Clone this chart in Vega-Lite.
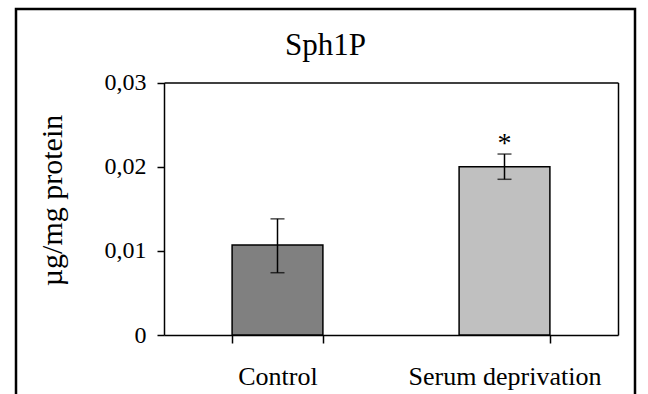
{
  "$schema": "https://vega.github.io/schema/vega-lite/v6.json",
  "autosize": {"type": "none"},
  "padding": {"left": 16, "top": 9, "right": 13, "bottom": 0},
  "width": 619,
  "height": 400,
  "title": {"text": "Sph1P", "anchor": "middle", "frame": "group", "font": "Liberation Serif", "fontSize": 31, "fontWeight": "normal", "color": "black", "baseline": "alphabetic", "offset": -77},
  "data": {"values": [
    {"group": "Control", "mean": 0.0107, "low": 0.0074, "high": 0.0138, "sig": ""},
    {"group": "Serum deprivation", "mean": 0.0200, "low": 0.0185, "high": 0.0215, "sig": "*"}
  ]},
  "config": {
    "view": {"stroke": "black", "strokeWidth": 2.5},
    "font": "Liberation Serif",
    "axis": {"grid": false, "domainColor": "black", "domainWidth": 1.5, "tickColor": "black", "tickWidth": 1.5, "labelColor": "black", "titleColor": "black", "labelFont": "Liberation Serif", "titleFont": "Liberation Serif"}
  },
  "resolve": {"axis": {"x": "independent", "y": "independent"}},
  "layer": [
    {
      "mark": {"type": "bar", "stroke": "black", "strokeWidth": 1.5},
      "encoding": {
        "x": {"field": "group", "type": "nominal", "sort": null,
          "scale": {"range": [148, 602], "paddingInner": 0.6, "paddingOuter": 0.3},
          "axis": {"orient": "bottom", "offset": -74, "title": null, "labelAngle": 0, "labelFontSize": 26, "labelPadding": 20, "labelLimit": 400, "tickSize": 8, "tickBand": "extent"}},
        "y": {"field": "mean", "type": "quantitative",
          "scale": {"domain": [0, 0.03], "range": [326, 73.5], "nice": false, "zero": true},
          "axis": {"orient": "left", "offset": -148, "values": [0, 0.01, 0.02, 0.03], "labelExpr": "replace(format(datum.value,'~g'),'.',',')", "labelFontSize": 24, "labelPadding": 11, "tickSize": 7, "title": "µg/mg protein", "titleFontSize": 30, "titleFontWeight": "normal", "titlePadding": 37, "titleY": 191}},
        "fill": {"field": "group", "type": "nominal", "scale": {"range": ["#808080", "#c0c0c0"]}, "legend": null}
      }
    },
    {
      "mark": {"type": "rule", "color": "black", "strokeWidth": 1.5},
      "encoding": {
        "x": {"field": "group", "type": "nominal", "sort": null, "axis": {"orient": "top", "offset": -73.5, "labels": false, "ticks": false, "title": null}},
        "y": {"field": "low", "type": "quantitative", "axis": {"orient": "right", "offset": -17, "labels": false, "ticks": false, "title": null}},
        "y2": {"field": "high"}
      }
    },
    {
      "mark": {"type": "tick", "color": "black", "thickness": 1.5, "size": 14},
      "encoding": {
        "x": {"field": "group", "type": "nominal", "sort": null, "axis": null},
        "y": {"field": "low", "type": "quantitative", "axis": null}
      }
    },
    {
      "mark": {"type": "tick", "color": "black", "thickness": 1.5, "size": 14},
      "encoding": {
        "x": {"field": "group", "type": "nominal", "sort": null, "axis": null},
        "y": {"field": "high", "type": "quantitative", "axis": null}
      }
    },
    {
      "mark": {"type": "text", "fontSize": 28, "baseline": "alphabetic", "dy": -2, "font": "Liberation Serif", "color": "black"},
      "encoding": {
        "x": {"field": "group", "type": "nominal", "sort": null, "axis": null},
        "y": {"field": "high", "type": "quantitative", "axis": null},
        "text": {"field": "sig"}
      }
    }
  ]
}
